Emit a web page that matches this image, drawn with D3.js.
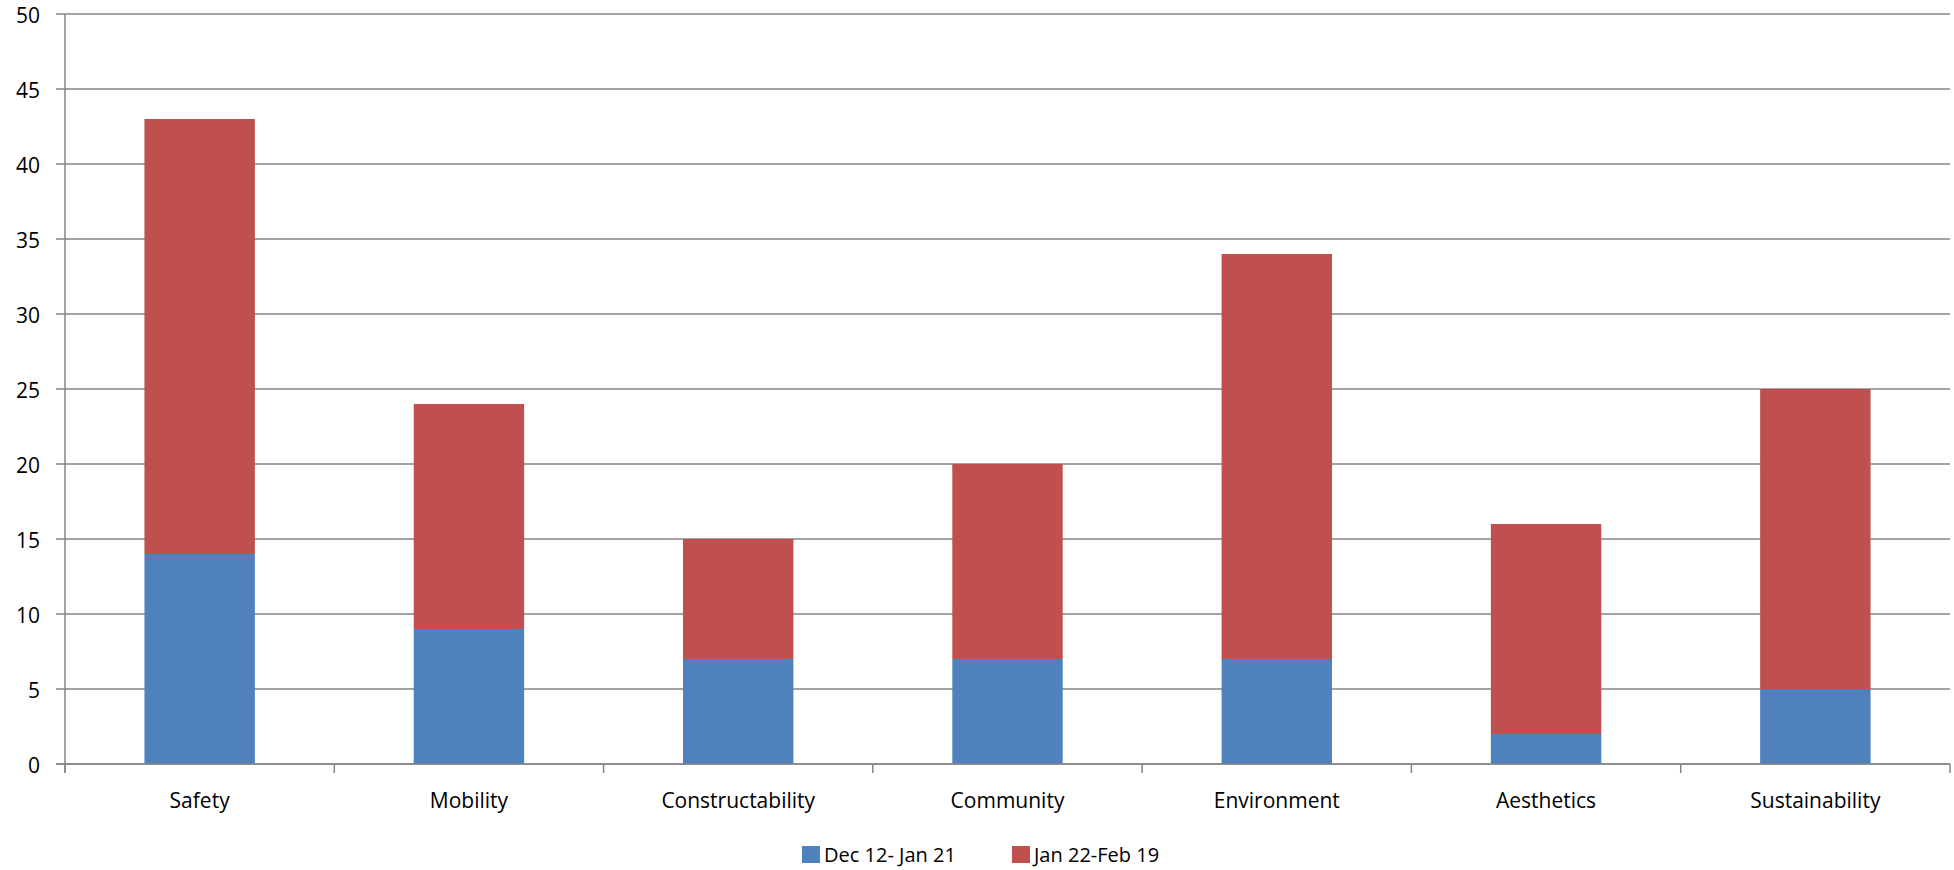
<!DOCTYPE html>
<html><head><meta charset="utf-8">
<script src="https://cdn.jsdelivr.net/npm/d3@7"></script>
<style>body{margin:0;background:#fff}svg{display:block}text{font-family:"Open Sans",Lato,sans-serif;fill:#000}</style>
</head><body><svg id="c" width="1954" height="870"></svg>
<script>
const categories = ["Safety","Mobility","Constructability","Community","Environment","Aesthetics","Sustainability"];
const seriesNames = ["Dec 12- Jan 21","Jan 22-Feb 19"];
const dec12Jan21 = [14, 9, 7, 7, 7, 2, 5];
const jan22Feb19 = [29, 15, 8, 13, 27, 14, 20];
const yTicks = [0,5,10,15,20,25,30,35,40,45,50];
const colors = ["#4F81BD","#C0504D"];

const svg = d3.select("#c");
const m = {l:65, r:4, t:14, b:106};
const W = 1954, H = 870;
const x = d3.scaleBand().domain(categories).range([m.l, W - m.r]).paddingInner(0.59).paddingOuter(0.295);
const xb = d3.scaleBand().domain(categories).range([m.l, W - m.r]);
const y = d3.scaleLinear().domain([0,50]).range([H - m.b, m.t]);

const g = svg.append("g");
g.selectAll("line.grid").data(yTicks).join("line")
  .attr("x1", m.l - 9).attr("x2", W - m.r)
  .attr("y1", d => y(d)).attr("y2", d => y(d))
  .attr("stroke", "#868686").attr("stroke-width", 1.5);
g.append("line").attr("x1", m.l).attr("x2", m.l).attr("y1", y(50)).attr("y2", y(0)+9)
  .attr("stroke", "#868686").attr("stroke-width", 1.5);
const bounds = categories.map(c => xb(c)).concat([W - m.r]);
g.selectAll("line.xt").data(bounds).join("line")
  .attr("x1", d => d).attr("x2", d => d).attr("y1", y(0)).attr("y2", y(0)+9)
  .attr("stroke", "#868686").attr("stroke-width", 1.5);
g.selectAll("text.yl").data(yTicks).join("text")
  .attr("x", 40).attr("y", d => y(d)).attr("dy", "0.45em")
  .attr("text-anchor", "end").attr("font-size", 21).text(d => d);
const stackData = categories.map((c,i) => ({cat:c, a:dec12Jan21[i], b:jan22Feb19[i]}));
const stacked = d3.stack().keys(["a","b"])(stackData);
stacked.forEach((s, si) => {
  g.selectAll("rect.s"+si).data(s).join("rect")
    .attr("x", d => x(d.data.cat)).attr("width", x.bandwidth())
    .attr("y", d => y(d[1])).attr("height", d => y(d[0]) - y(d[1]))
    .attr("fill", colors[si]);
});
g.append("line").attr("x1", m.l - 9).attr("x2", W - m.r).attr("y1", y(0)).attr("y2", y(0))
  .attr("stroke", "#868686").attr("stroke-width", 1.5);
g.selectAll("text.xl").data(categories).join("text")
  .attr("x", d => xb(d) + xb.bandwidth()/2).attr("y", 808)
  .attr("text-anchor", "middle").attr("font-size", 21).text(d => d);
const leg = [{n:seriesNames[0], c:colors[0], x:802},{n:seriesNames[1], c:colors[1], x:1012}];
const lg = svg.append("g");
lg.selectAll("rect").data(leg).join("rect")
  .attr("x", d => d.x).attr("y", 846).attr("width", 18).attr("height", 17).attr("fill", d => d.c);
lg.selectAll("text").data(leg).join("text")
  .attr("x", d => d.x + 22).attr("y", 855).attr("dy", "0.35em").attr("font-size", 20).text(d => d.n);
</script></body></html>
